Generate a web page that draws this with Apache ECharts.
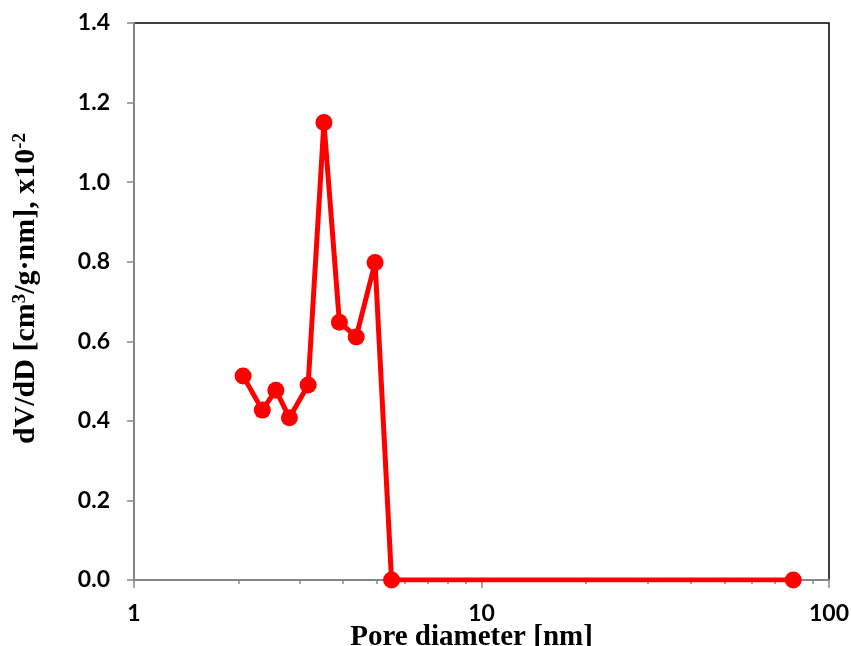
<!DOCTYPE html>
<html>
<head>
<meta charset="utf-8">
<script src="https://cdn.jsdelivr.net/npm/echarts@6/dist/echarts.min.js"></script>
<style>
  html, body { margin: 0; padding: 0; background: #fff; }
  #chart { width: 851px; height: 646px; }
</style>
</head>
<body>
<div id="chart"></div>
<script>
// pore size distribution (BJH-like)
var poreDiameter = [2.06, 2.34, 2.56, 2.80, 3.17, 3.52, 3.90, 4.36, 4.94, 5.51, 78.9];
var dVdD = [0.513, 0.427, 0.477, 0.408, 0.490, 1.150, 0.648, 0.611, 0.798, 0.000, 0.000];

var points = poreDiameter.map(function (d, i) { return [d, dVdD[i]]; });

var labelFont = { fontFamily: 'Lato', fontWeight: 'bold', fontSize: 23, color: '#000' };
var titleFont = 'Liberation Serif';
var axisGray = '#868686';

var myChart = echarts.init(document.getElementById('chart'));
myChart.setOption({
    animation: false,
    grid: {
        left: 134, right: 22, top: 23, bottom: 66,
        outerBoundsMode: 'none', containLabel: false,
        show: true, borderColor: '#000', borderWidth: 1.5
    },
    xAxis: {
        type: 'log', min: 1, max: 100, logBase: 10,
        name: 'Pore diameter [nm]',
        nameLocation: 'middle', nameGap: 43, nameMoveOverlap: false,
        nameTextStyle: { fontFamily: titleFont, fontWeight: 'bold', fontSize: 29, color: '#000', padding: [0, 20, 0, 0] },
        axisLine: { lineStyle: { color: axisGray, width: 2 } },
        axisTick: { length: 8, lineStyle: { color: axisGray, width: 1.5 } },
        minorTick: { show: true, splitNumber: 9, length: 4, lineStyle: { color: axisGray, width: 1.5 } },
        splitLine: { show: false },
        axisLabel: Object.assign({ margin: 22, formatter: function (v) { return String(Math.round(v)); } }, labelFont)
    },
    yAxis: {
        type: 'value', min: 0, max: 1.4, interval: 0.2,
        name: 'dV/dD [cm{sup|3}/g·nm], x10{sup|-2}',
        nameLocation: 'middle', nameGap: 92, nameMoveOverlap: false,
        nameTextStyle: {
            fontFamily: titleFont, fontWeight: 'bold', fontSize: 30, color: '#000',
            padding: [0, 0, 0, 26],
            rich: {
                sup: { fontFamily: titleFont, fontWeight: 'bold', fontSize: 19, color: '#000', padding: [0, 0, 12, 0] }
            }
        },
        axisLine: { lineStyle: { color: axisGray, width: 2 } },
        axisTick: { length: 7, lineStyle: { color: axisGray, width: 1.5 } },
        splitLine: { show: false },
        axisLabel: Object.assign({ margin: 24, formatter: function (v) { return v.toFixed(1); } }, labelFont)
    },
    series: [{
        type: 'line',
        data: points,
        symbol: 'circle',
        symbolSize: 17,
        lineStyle: { color: '#ff0000', width: 5 },
        itemStyle: { color: '#ff0000' }
    }]
});
</script>
</body>
</html>
